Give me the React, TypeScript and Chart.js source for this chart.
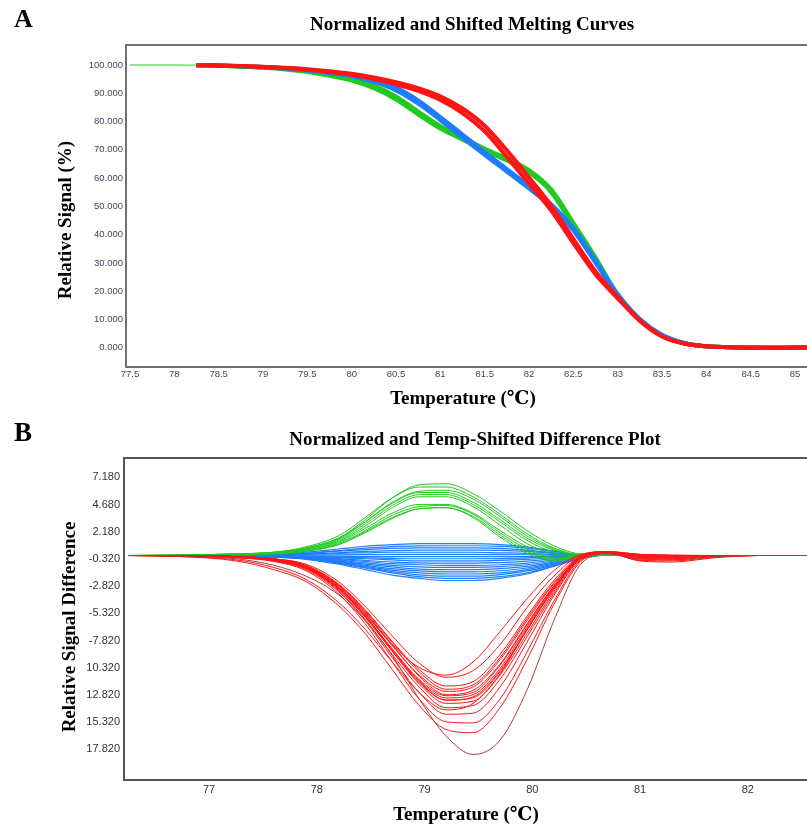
import React, { useEffect, useRef } from "react";
import { Chart, registerables } from "chart.js";
Chart.register(...registerables);

// ---------- Panel A: Normalized and Shifted Melting Curves ----------
const XA = [78.25, 78.5, 78.75, 79, 79.25, 79.5, 79.75, 80, 80.25, 80.5, 80.75, 81, 81.25, 81.5, 81.75, 82, 82.25, 82.5, 82.75, 83, 83.25, 83.5, 83.75, 84, 84.25, 84.5, 84.75, 85, 85.2];
const RED_A = [99.9, 99.8, 99.6, 99.3, 98.9, 98.3, 97.5, 96.5, 95.0, 93.2, 90.8, 87.6, 83.0, 76.5, 67.5, 58.0, 48.5, 37.0, 26.0, 17.5, 9.5, 4.0, 1.5, 0.5, 0.2, 0.0, 0.0, 0.1, 0.1];
const RED_A2 = [99.9, 99.8, 99.6, 99.4, 99.0, 98.5, 97.8, 96.9, 95.6, 93.9, 91.8, 88.9, 84.6, 78.5, 69.8, 60.2, 50.2, 38.5, 27.0, 18.0, 9.7, 4.1, 1.5, 0.5, 0.2, 0.0, 0.0, 0.1, 0.1];
const BLUE_A = [99.9, 99.8, 99.5, 99.2, 98.7, 98.0, 97.1, 96.0, 94.0, 91.0, 86.3, 80.5, 74.3, 68.2, 62.3, 56.3, 50.0, 41.5, 30.0, 18.5, 10.0, 4.5, 1.7, 0.5, 0.2, 0.1, 0.0, 0.1, 0.1];
const BLUE_A2 = [99.9, 99.8, 99.6, 99.3, 98.9, 98.3, 97.5, 96.6, 94.8, 92.0, 87.5, 81.6, 75.4, 69.2, 63.2, 57.2, 50.8, 42.3, 30.8, 19.0, 10.2, 4.6, 1.7, 0.5, 0.2, 0.1, 0.0, 0.1, 0.1];
const GREEN_A = [99.9, 99.7, 99.4, 99.0, 98.4, 97.5, 96.2, 94.5, 91.8, 87.8, 82.5, 77.5, 73.6, 69.8, 66.2, 62.0, 55.0, 43.0, 31.0, 18.5, 9.8, 4.3, 1.6, 0.5, 0.2, 0.0, 0.0, 0.1, 0.1];
const GREEN_A2 = [99.9, 99.7, 99.5, 99.2, 98.7, 97.9, 96.8, 95.2, 92.7, 88.9, 83.6, 78.4, 74.3, 70.4, 66.9, 62.8, 56.0, 44.2, 32.0, 18.8, 9.9, 4.3, 1.6, 0.5, 0.2, 0.0, 0.0, 0.1, 0.1];
const XA_LEAD = [77.5, 77.75, 78, 78.25];
const GREEN_A_LEAD = [100, 100, 100, 99.9];
const XA_TICKS = [77.5, 78, 78.5, 79, 79.5, 80, 80.5, 81, 81.5, 82, 82.5, 83, 83.5, 84, 84.5, 85];
const XA_TICK_LABELS = ["77.5", "78", "78.5", "79", "79.5", "80", "80.5", "81", "81.5", "82", "82.5", "83", "83.5", "84", "84.5", "85"];
const YA_TICKS = [0, 10, 20, 30, 40, 50, 60, 70, 80, 90, 100];
const YA_TICK_LABELS = ["0.000", "10.000", "20.000", "30.000", "40.000", "50.000", "60.000", "70.000", "80.000", "90.000", "100.000"];

// ---------- Panel B: Normalized and Temp-Shifted Difference Plot ----------
const XB = [76.25, 76.75, 77.25, 77.6, 77.9, 78.2, 78.45, 78.7, 78.95, 79.2, 79.45, 79.7, 79.95, 80.2, 80.45, 80.7, 81.0, 81.3, 81.7, 82.1, 82.6];
const RED_B = [
  [0, 0, -0.1, -0.3, -0.8, -2.4, -4.7, -7.4, -9.9, -11.2, -10.6, -8.2, -4.8, -1.9, 0.05, 0.35, 0.1, 0, 0, 0, 0],
  [0, 0, -0.1, -0.3, -0.9, -2.6, -5.0, -7.9, -10.5, -12.0, -11.6, -9.1, -5.6, -2.3, -0.05, 0.35, 0.1, 0.05, 0, 0, 0],
  [0, 0, -0.1, -0.35, -1.0, -2.8, -5.3, -8.3, -11.0, -12.5, -12.1, -9.6, -6.0, -2.6, -0.1, 0.3, 0.0, 0, 0, 0, 0],
  [0, 0, -0.1, -0.4, -1.1, -3.0, -5.6, -8.6, -11.4, -12.9, -12.6, -10.1, -6.4, -2.8, -0.15, 0.3, -0.1, -0.1, 0, 0, 0],
  [0, 0, -0.15, -0.45, -1.2, -3.1, -5.7, -8.8, -11.7, -13.3, -13.0, -10.6, -6.8, -3.0, -0.2, 0.3, -0.2, -0.2, -0.05, 0, 0],
  [0, 0, -0.15, -0.4, -1.1, -3.0, -5.6, -8.8, -11.8, -13.6, -13.4, -11.0, -7.2, -3.3, -0.25, 0.25, -0.3, -0.3, -0.1, 0, 0],
  [0, -0.05, -0.2, -0.5, -1.3, -3.3, -6.0, -9.4, -12.6, -14.6, -14.5, -12.1, -8.0, -3.7, -0.35, 0.2, -0.4, -0.4, -0.1, 0, 0],
  [0, -0.05, -0.2, -0.55, -1.4, -3.5, -6.3, -9.8, -13.2, -15.3, -15.4, -13.2, -8.9, -4.2, -0.45, 0.2, -0.45, -0.5, -0.15, 0, 0],
  [0, -0.1, -0.5, -1.3, -2.4, -4.6, -7.2, -10.5, -13.8, -16.0, -16.3, -14.0, -9.6, -4.5, -0.55, 0.25, -0.5, -0.6, -0.2, 0, 0],
  [0, 0, -0.1, -0.3, -1.0, -2.9, -5.4, -8.2, -10.3, -11.0, -9.8, -7.0, -4.0, -1.4, 0.1, 0.35, 0.1, 0, 0, 0, 0],
  [0, -0.1, -0.4, -1.1, -2.2, -4.3, -6.8, -9.8, -12.6, -14.2, -13.6, -10.9, -6.8, -3.1, -0.25, 0.3, -0.2, -0.2, 0, 0, 0],
  [0, 0, -0.1, -0.35, -1.0, -2.7, -5.2, -8.2, -11.1, -12.8, -12.4, -10.0, -6.3, -2.8, -0.15, 0.3, 0.05, 0, 0, 0, 0],
  [0, 0, -0.12, -0.4, -1.1, -2.9, -5.5, -8.6, -11.5, -13.1, -12.8, -10.4, -6.6, -2.9, -0.2, 0.3, -0.05, -0.05, 0, 0, 0],
  [0, -0.05, -0.15, -0.45, -1.2, -3.2, -5.9, -9.1, -12.1, -14.0, -13.8, -11.4, -7.5, -3.5, -0.3, 0.25, -0.3, -0.3, -0.05, 0, 0],
  [0, 0, -0.1, -0.32, -0.95, -2.7, -5.1, -8.0, -10.7, -12.3, -11.9, -9.4, -5.8, -2.5, -0.1, 0.35, 0.05, 0, 0, 0, 0],
  [0, 0, -0.12, -0.42, -1.15, -3.0, -5.6, -8.7, -11.6, -13.3, -13.1, -10.7, -6.9, -3.1, -0.2, 0.3, -0.15, -0.15, 0, 0, 0],
];
const RED_B_DEEP = [0, -0.05, -0.3, -0.9, -1.9, -3.6, -6.0, -9.2, -13.2, -16.6, -18.3, -17.0, -12.4, -6.0, -0.8, 0.15, -0.3, -0.4, -0.1, 0, 0];
const GREEN_B = [
  [0, 0.05, 0.15, 0.3, 0.7, 1.6, 3.3, 5.3, 6.5, 6.6, 5.7, 4.1, 2.3, 0.9, 0.15, 0.1, 0.05, 0, 0, 0, 0],
  [0, 0.05, 0.15, 0.3, 0.8, 1.8, 3.5, 5.3, 6.3, 6.3, 5.4, 3.8, 2.0, 0.7, 0.1, 0.1, 0.05, 0, 0, 0, 0],
  [0, 0.05, 0.1, 0.25, 0.6, 1.5, 3.1, 4.9, 5.9, 6.0, 5.2, 3.6, 1.8, 0.6, 0.05, 0.1, 0, 0, 0, 0, 0],
  [0, 0.05, 0.15, 0.3, 0.7, 1.6, 3.1, 4.8, 5.8, 5.8, 4.9, 3.3, 1.6, 0.5, 0.05, 0.1, 0, 0, 0, 0, 0],
  [0, 0, 0.1, 0.25, 0.6, 1.4, 2.9, 4.6, 5.6, 5.6, 4.7, 3.1, 1.4, 0.3, 0, 0.1, 0, 0, 0, 0, 0],
  [0, 0, 0.1, 0.2, 0.5, 1.3, 2.7, 4.4, 5.4, 5.4, 4.5, 2.8, 1.1, 0.1, -0.1, 0.1, 0, 0, 0, 0, 0],
  [0, 0, 0.1, 0.2, 0.5, 1.2, 2.5, 3.9, 4.7, 4.7, 3.9, 2.3, 0.8, -0.2, -0.2, 0.1, 0, 0, 0, 0, 0],
  [0, 0, 0.1, 0.2, 0.4, 1.1, 2.3, 3.7, 4.5, 4.6, 3.8, 2.1, 0.6, -0.3, -0.15, 0.1, 0, 0, 0, 0, 0],
  [0, 0, 0.05, 0.15, 0.4, 1.0, 2.2, 3.5, 4.3, 4.4, 3.6, 1.9, 0.4, -0.4, -0.1, 0.1, 0, 0, 0, 0, 0],
  [0, 0, 0.05, 0.2, 0.4, 1.0, 2.1, 3.4, 4.3, 4.4, 3.5, 1.7, 0.2, -0.5, -0.2, 0.05, 0, 0, 0, 0, 0],
];
const BLUE_B = [
  [0, 0, 0.05, 0.1, 0.3, 0.6, 0.85, 1.0, 1.1, 1.1, 1.1, 1.0, 0.8, 0.4, 0.05, 0.05, 0, 0, 0, 0, 0],
  [0, 0, 0.04, 0.1, 0.22, 0.45, 0.68, 0.82, 0.88, 0.9, 0.9, 0.84, 0.68, 0.38, 0.05, 0.05, 0, 0, 0, 0, 0],
  [0, 0, 0.05, 0.1, 0.2, 0.4, 0.55, 0.65, 0.7, 0.7, 0.7, 0.65, 0.5, 0.25, 0, 0.05, 0, 0, 0, 0, 0],
  [0, 0, 0.02, 0.05, 0.12, 0.25, 0.38, 0.45, 0.49, 0.5, 0.5, 0.47, 0.38, 0.2, 0.03, 0.05, 0, 0, 0, 0, 0],
  [0, 0, 0, 0.05, 0.1, 0.2, 0.25, 0.3, 0.3, 0.3, 0.3, 0.25, 0.2, 0.1, 0, 0.05, 0, 0, 0, 0, 0],
  [0, 0, 0, 0.02, 0.04, 0.06, 0.08, 0.1, 0.1, 0.1, 0.1, 0.09, 0.07, 0.03, 0, 0.05, 0, 0, 0, 0, 0],
  [0, 0, 0, 0, -0.05, -0.05, -0.1, -0.1, -0.1, -0.1, -0.1, -0.1, -0.1, -0.05, 0, 0.05, 0, 0, 0, 0, 0],
  [0, 0, 0, -0.03, -0.08, -0.15, -0.22, -0.27, -0.3, -0.3, -0.3, -0.28, -0.22, -0.12, -0.03, 0.05, 0, 0, 0, 0, 0],
  [0, 0, 0, -0.05, -0.1, -0.2, -0.3, -0.4, -0.5, -0.5, -0.5, -0.45, -0.35, -0.2, -0.05, 0.05, 0, 0, 0, 0, 0],
  [0, 0, -0.03, -0.08, -0.13, -0.28, -0.45, -0.6, -0.68, -0.7, -0.7, -0.66, -0.52, -0.3, -0.08, 0.05, 0, 0, 0, 0, 0],
  [0, 0, -0.05, -0.1, -0.15, -0.35, -0.55, -0.75, -0.85, -0.9, -0.9, -0.85, -0.7, -0.4, -0.1, 0.05, 0, 0, 0, 0, 0],
  [0, 0, -0.05, -0.1, -0.18, -0.42, -0.68, -0.9, -1.05, -1.1, -1.1, -1.03, -0.85, -0.5, -0.12, 0.05, 0, 0, 0, 0, 0],
  [0, 0, -0.05, -0.1, -0.2, -0.5, -0.8, -1.05, -1.25, -1.3, -1.3, -1.2, -1.0, -0.6, -0.15, 0.05, 0, 0, 0, 0, 0],
  [0, 0, -0.05, -0.1, -0.22, -0.55, -0.9, -1.2, -1.42, -1.5, -1.5, -1.4, -1.15, -0.7, -0.18, 0.05, 0, 0, 0, 0, 0],
  [0, 0, -0.05, -0.1, -0.25, -0.6, -1.0, -1.35, -1.6, -1.7, -1.7, -1.6, -1.3, -0.8, -0.2, 0.05, 0, 0, 0, 0, 0],
  [0, 0, -0.05, -0.12, -0.28, -0.66, -1.08, -1.48, -1.78, -1.9, -1.9, -1.76, -1.42, -0.86, -0.22, 0.05, 0, 0, 0, 0, 0],
  [0, 0, -0.05, -0.15, -0.3, -0.7, -1.15, -1.6, -1.95, -2.1, -2.1, -1.95, -1.6, -0.95, -0.25, 0.05, 0, 0, 0, 0, 0],
  [0, 0, -0.05, -0.15, -0.35, -0.8, -1.3, -1.8, -2.1, -2.3, -2.3, -2.1, -1.7, -1.0, -0.3, 0.05, 0, 0, 0, 0, 0],
];
const XB_TICKS = [77, 78, 79, 80, 81, 82];
const XB_TICK_LABELS = ["77", "78", "79", "80", "81", "82"];
const YB_TICKS = [-17.82, -15.32, -12.82, -10.32, -7.82, -5.32, -2.82, -0.32, 2.18, 4.68, 7.18];
const YB_TICK_LABELS = ["17.820", "15.320", "12.820", "10.320", "-7.820", "-5.320", "-2.820", "-0.320", "2.180", "4.680", "7.180"];

const RED = "#ff1414";
const RED_DEEP = "#b23a3a";
const GREEN = "#22c922";
const GREEN_LIGHT = "#8fe38f";
const BLUE = "#1e7dff";

const SERIF = '"Liberation Serif", "Times New Roman", "DejaVu Serif", serif';

const toPts = (xs: number[], ys: number[]) => xs.map((x, i) => ({ x, y: ys[i] }));

type TextItem = { text: string; x: number; y: number; font: string; rotate?: boolean; align?: CanvasTextAlign };

function textPlugin(id: string, items: TextItem[]) {
  return {
    id,
    afterDraw(chart: any) {
      const ctx = chart.ctx as CanvasRenderingContext2D;
      items.forEach((it) => {
        ctx.save();
        ctx.font = it.font;
        ctx.fillStyle = "#000";
        ctx.textAlign = it.align || "center";
        ctx.textBaseline = "alphabetic";
        ctx.translate(it.x, it.y);
        if (it.rotate) ctx.rotate(-Math.PI / 2);
        ctx.fillText(it.text, 0, 0);
        ctx.restore();
      });
    },
  };
}

function framePlugin(id: string, color: string) {
  return {
    id,
    afterDatasetsDraw(chart: any) {
      const { ctx, chartArea: a } = chart;
      ctx.save();
      ctx.strokeStyle = color;
      ctx.lineWidth = 2;
      ctx.beginPath();
      ctx.moveTo(a.right + 2, a.top);
      ctx.lineTo(a.left, a.top);
      ctx.lineTo(a.left, a.bottom);
      ctx.lineTo(a.right + 2, a.bottom);
      ctx.stroke();
      ctx.restore();
    },
  };
}

export default function App() {
  const refA = useRef<HTMLCanvasElement | null>(null);
  const refB = useRef<HTMLCanvasElement | null>(null);

  useEffect(() => {
    const tickFontA = { family: '"Liberation Sans", Arial, sans-serif', size: 9.5 };
    const tickFontB = { family: '"Liberation Sans Narrow", "Liberation Sans", Arial, sans-serif', size: 11 };

    const chartA = new Chart(refA.current as HTMLCanvasElement, {
      type: "line",
      data: {
        datasets: [
          { data: toPts(XA, RED_A), borderColor: RED, borderWidth: 4 },
          { data: toPts(XA, RED_A2), borderColor: RED, borderWidth: 4 },
          { data: toPts(XA, BLUE_A), borderColor: BLUE, borderWidth: 4 },
          { data: toPts(XA, BLUE_A2), borderColor: BLUE, borderWidth: 4 },
          { data: toPts(XA, GREEN_A), borderColor: GREEN, borderWidth: 4 },
          { data: toPts(XA, GREEN_A2), borderColor: GREEN, borderWidth: 4 },
          { data: toPts(XA_LEAD, GREEN_A_LEAD), borderColor: GREEN_LIGHT, borderWidth: 2 },
        ],
      } as any,
      options: {
        animation: false,
        responsive: false,
        devicePixelRatio: 1,
        events: [],
        layout: { padding: { top: 45, left: 0, right: 0, bottom: 0 } },
        elements: { point: { radius: 0 }, line: { cubicInterpolationMode: "monotone", borderCapStyle: "butt", borderJoinStyle: "round" } },
        plugins: { legend: { display: false }, tooltip: { enabled: false }, title: { display: false } },
        scales: {
          x: {
            type: "linear",
            min: 77.455,
            max: 85.135,
            grid: { display: false, drawTicks: false },
            border: { display: false },
            afterBuildTicks: (s: any) => { s.ticks = XA_TICKS.map((v) => ({ value: v })); },
            afterFit: (s: any) => { s.height = 45; s.paddingLeft = 0; s.paddingRight = 0; },
            ticks: { autoSkip: false, maxRotation: 0, padding: 2, color: "#3d4a5c", font: tickFontA, callback: (_v: any, i: number) => XA_TICK_LABELS[i] },
          },
          y: {
            type: "linear",
            min: -6.8,
            max: 107.06,
            grid: { display: false, drawTicks: false },
            border: { display: false },
            afterBuildTicks: (s: any) => { s.ticks = YA_TICKS.map((v) => ({ value: v })); },
            afterFit: (s: any) => { s.width = 126; s.paddingTop = 0; s.paddingBottom = 0; },
            ticks: { autoSkip: false, padding: 3, color: "#3d4a5c", font: tickFontA, callback: (_v: any, i: number) => YA_TICK_LABELS[i] },
          },
        },
      } as any,
      plugins: [
        framePlugin("frameA", "#707070"),
        textPlugin("textA", [
          { text: "A", x: 14, y: 27, font: `bold 26px ${SERIF}`, align: "left" },
          { text: "Normalized and Shifted Melting Curves", x: 472, y: 30, font: `bold 19px ${SERIF}` },
          { text: "Relative Signal (%)", x: 71, y: 220, font: `bold 19px ${SERIF}`, rotate: true },
          { text: "Temperature (℃)", x: 463, y: 404, font: `bold 19px ${SERIF}` },
        ]),
      ],
    });

    const datasetsB: any[] = [];
    datasetsB.push({ data: toPts(XB, RED_B_DEEP), borderColor: RED_DEEP, borderWidth: 1 });
    RED_B.forEach((ys) => datasetsB.push({ data: toPts(XB, ys), borderColor: RED, borderWidth: 1 }));
    GREEN_B.forEach((ys) => datasetsB.push({ data: toPts(XB, ys), borderColor: GREEN, borderWidth: 1 }));
    BLUE_B.forEach((ys) => datasetsB.push({ data: toPts(XB, ys), borderColor: BLUE, borderWidth: 1.2 }));

    const chartB = new Chart(refB.current as HTMLCanvasElement, {
      type: "line",
      data: { datasets: datasetsB } as any,
      options: {
        animation: false,
        responsive: false,
        devicePixelRatio: 1,
        events: [],
        layout: { padding: { top: 46, left: 0, right: 0, bottom: 0 } },
        elements: { point: { radius: 0 }, line: { cubicInterpolationMode: "monotone" } },
        plugins: { legend: { display: false }, tooltip: { enabled: false }, title: { display: false } },
        scales: {
          x: {
            type: "linear",
            min: 76.21,
            max: 82.55,
            grid: { display: false, drawTicks: false },
            border: { display: false },
            afterBuildTicks: (s: any) => { s.ticks = XB_TICKS.map((v) => ({ value: v })); },
            afterFit: (s: any) => { s.height = 46; s.paddingLeft = 0; s.paddingRight = 0; },
            ticks: { autoSkip: false, maxRotation: 0, padding: 3, color: "#333", font: tickFontB, callback: (_v: any, i: number) => XB_TICK_LABELS[i] },
          },
          y: {
            type: "linear",
            min: -20.65,
            max: 8.97,
            grid: { display: false, drawTicks: false },
            border: { display: false },
            afterBuildTicks: (s: any) => { s.ticks = YB_TICKS.map((v) => ({ value: v })); },
            afterFit: (s: any) => { s.width = 124; s.paddingTop = 0; s.paddingBottom = 0; },
            ticks: { autoSkip: false, padding: 4, color: "#333", font: tickFontB, callback: (_v: any, i: number) => YB_TICK_LABELS[i] },
          },
        },
      } as any,
      plugins: [
        framePlugin("frameB", "#555555"),
        textPlugin("textB", [
          { text: "B", x: 14, y: 29, font: `bold 27px ${SERIF}`, align: "left" },
          { text: "Normalized and Temp-Shifted Difference Plot", x: 475, y: 33, font: `bold 19px ${SERIF}` },
          { text: "Relative Signal Difference", x: 75, y: 215, font: `bold 19px ${SERIF}`, rotate: true },
          { text: "Temperature (℃)", x: 466, y: 408, font: `bold 19px ${SERIF}` },
        ]),
      ],
    });

    return () => {
      chartA.destroy();
      chartB.destroy();
    };
  }, []);

  return (
    <div style={{ position: "absolute", left: 0, top: 0, width: 807, height: 826, background: "#fff" }}>
      <canvas ref={refA} width={807} height={412} style={{ display: "block", width: 807, height: 412 }} />
      <canvas ref={refB} width={807} height={414} style={{ display: "block", width: 807, height: 414 }} />
    </div>
  );
}
